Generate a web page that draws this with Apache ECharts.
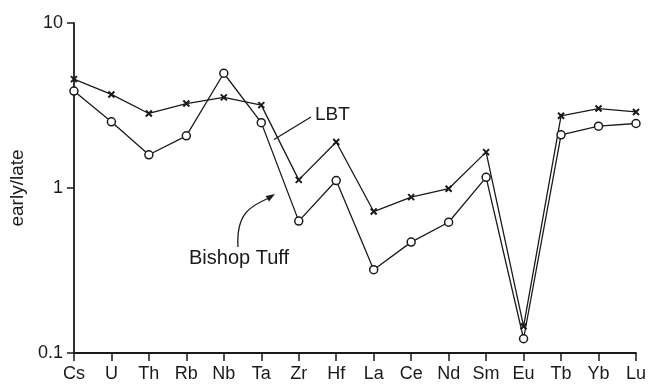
<!DOCTYPE html>
<html>
<head>
<meta charset="utf-8">
<script src="https://cdn.jsdelivr.net/npm/echarts@6/dist/echarts.min.js"></script>
<style>
  html, body { margin: 0; padding: 0; background: #fff; }
  #chart { width: 649px; height: 387px; }
</style>
</head>
<body>
<div id="chart"></div>
<script>
// Element order along the horizontal axis
const elements = ['Cs', 'U', 'Th', 'Rb', 'Nb', 'Ta', 'Zr', 'Hf', 'La', 'Ce', 'Nd', 'Sm', 'Eu', 'Tb', 'Yb', 'Lu'];

// early/late concentration ratios
const lbt = [4.57, 3.69, 2.83, 3.25, 3.54, 3.18, 1.12, 1.90, 0.72, 0.88, 0.99, 1.65, 0.145, 2.74, 3.03, 2.89];
const bishopTuff = [3.87, 2.52, 1.59, 2.07, 4.96, 2.49, 0.63, 1.11, 0.32, 0.47, 0.62, 1.16, 0.122, 2.10, 2.37, 2.46];

// Log-axis range and its labelled decades
const yMin = 0.1;
const yMax = 10;
const yTickLabels = { '0.1': '0.1', '1': '1', '10': '10' };

const ink = '#1a1a1a';
const font = 'Liberation Sans, Arial, Helvetica, sans-serif';
const crossPath = 'path://M0,0L10,10M10,0L0,10';

const chart = echarts.init(document.getElementById('chart'), null, { renderer: 'canvas' });

chart.setOption({
  animation: false,
  backgroundColor: '#fff',
  grid: { left: 57, right: 11, top: 23, bottom: 34, containLabel: false },
  xAxis: {
    type: 'category',
    data: elements,
    boundaryGap: false,
    axisLine: { lineStyle: { color: ink, width: 1.8 } },
    axisTick: { show: true, inside: false, length: 8, alignWithLabel: true, lineStyle: { color: ink, width: 1.5 } },
    axisLabel: { color: ink, fontFamily: font, fontSize: 18, margin: 12, interval: 0 },
    splitLine: { show: false }
  },
  yAxis: {
    type: 'log',
    logBase: 10,
    min: yMin,
    max: yMax,
    name: 'early/late',
    nameLocation: 'middle',
    nameRotate: 90,
    nameGap: 34,
    nameTextStyle: { color: ink, fontFamily: font, fontSize: 19 },
    axisLine: { show: true, lineStyle: { color: ink, width: 1.8 } },
    axisTick: { show: true, inside: false, length: 7, lineStyle: { color: ink, width: 1.5 } },
    minorTick: { show: false },
    axisLabel: {
      color: ink, fontFamily: font, fontSize: 18, margin: 11,
      formatter: v => {
        const key = String(Math.round(v * 1000) / 1000);
        return yTickLabels[key] !== undefined ? yTickLabels[key] : '';
      }
    },
    splitLine: { show: false }
  },
  series: [
    {
      name: 'LBT',
      type: 'line',
      data: lbt,
      symbol: crossPath,
      symbolSize: 6,
      showAllSymbol: true,
      lineStyle: { color: ink, width: 1.3 },
      itemStyle: { color: ink, borderColor: ink, borderWidth: 2 },
      z: 3,
      // pointer from the "LBT" caption to its curve
      markLine: {
        silent: true,
        animation: false,
        symbol: ['none', 'arrow'],
        symbolSize: [0, 12],
        label: { show: false },
        lineStyle: { color: ink, width: 1.3, type: 'solid' },
        itemStyle: { color: ink },
        emphasis: { disabled: true },
        data: [[{ x: 311, y: 117 }, { x: 274, y: 139.5 }]]
      }
    },
    {
      name: 'Bishop Tuff',
      type: 'line',
      data: bishopTuff,
      symbol: 'circle',
      symbolSize: 8,
      showAllSymbol: true,
      lineStyle: { color: ink, width: 1.3 },
      itemStyle: { color: '#fff', borderColor: ink, borderWidth: 1.5 },
      z: 4
    }
  ],
  graphic: [
    { type: 'text', id: 'lbtText', left: 315, top: 105, style: { text: 'LBT', fill: ink, font: '19px ' + font } },
    // Bishop Tuff label with curved arrow
    { type: 'text', id: 'btText', left: 189, top: 248, style: { text: 'Bishop Tuff', fill: ink, font: '20px ' + font } },
    { type: 'bezierCurve', id: 'btShaft', shape: { x1: 238, y1: 247, cpx1: 236, cpy1: 214, cpx2: 250, cpy2: 206, x2: 269, y2: 198 }, style: { stroke: ink, lineWidth: 1.3, fill: null }, z: 10 },
    { type: 'polygon', id: 'btHead', shape: { points: [[275, 194], [269, 201.4], [265.6, 196]] }, style: { fill: ink }, z: 10 }
  ]
});
</script>
</body>
</html>
